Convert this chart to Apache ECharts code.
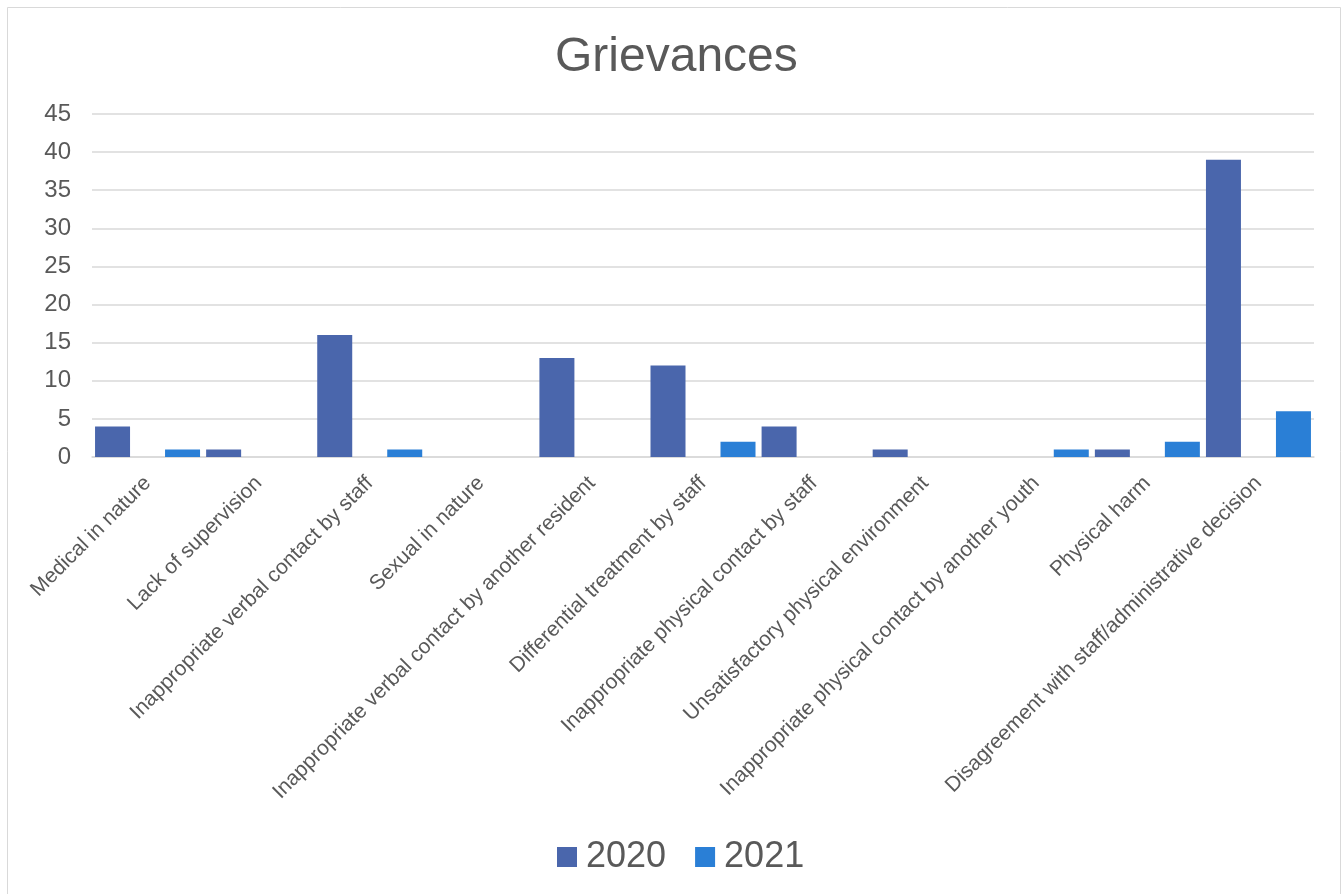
<!DOCTYPE html>
<html>
<head>
<meta charset="utf-8">
<title>Grievances</title>
<script src="https://cdn.jsdelivr.net/npm/echarts@6/dist/echarts.min.js"></script>
<style>
  html, body { margin: 0; padding: 0; background: #ffffff; }
  #chart { width: 1343px; height: 894px; }
</style>
</head>
<body>
<div id="chart"></div>
<script>
// Grievance categories along the x axis
const categories = [
  'Medical in nature',
  'Lack of supervision',
  'Inappropriate verbal contact by staff',
  'Sexual in nature',
  'Inappropriate verbal contact by another resident',
  'Differential treatment by staff',
  'Inappropriate physical contact by staff',
  'Unsatisfactory physical environment',
  'Inappropriate physical contact by another youth',
  'Physical harm',
  'Disagreement with staff/administrative decision'
];

// Counts per year
const values2020 = [4, 1, 16, 0, 13, 12, 4, 1, 0, 1, 39];
const values2021 = [1, 0, 1, 0, 0, 2, 0, 0, 1, 2, 6];

// Series names shown in the legend
const seriesNames = ['2020', '2021'];

const FONT = '"Liberation Sans", Arial, sans-serif';
const TEXT = '#595959';
const GRID_LINE = '#d9d9d9';

const chart = echarts.init(document.getElementById('chart'), null, { renderer: 'canvas' });

chart.setOption({
  backgroundColor: '#ffffff',
  animation: false,
  textStyle: { fontFamily: FONT },
  graphic: [{
    type: 'rect',
    shape: { x: 7.5, y: 7.5, width: 1333, height: 900 },
    style: { fill: 'none', stroke: '#d9d9d9', lineWidth: 1 },
    silent: true
  }],
  title: {
    text: 'Grievances',
    left: 550,
    top: 29,
    textStyle: { fontFamily: FONT, fontSize: 48, fontWeight: 'normal', color: TEXT }
  },
  legend: {
    data: seriesNames,
    left: 552,
    top: 834,
    itemWidth: 20,
    itemHeight: 20,
    itemGap: 29,
    icon: 'rect',
    textStyle: { fontFamily: FONT, fontSize: 36, color: TEXT, padding: [0, 0, 0, 4] }
  },
  grid: {
    left: 92,
    right: 29,
    top: 114,
    height: 343,
    containLabel: false
  },
  xAxis: {
    type: 'category',
    data: categories,
    boundaryGap: true,
    axisTick: { show: false },
    axisLine: { lineStyle: { color: GRID_LINE, width: 1.5 } },
    axisLabel: {
      interval: 0,
      rotate: 45,
      margin: 23,
      fontFamily: FONT,
      fontSize: 21,
      color: TEXT
    }
  },
  yAxis: {
    type: 'value',
    min: 0,
    max: 45,
    interval: 5,
    axisLine: { show: false },
    axisTick: { show: false },
    axisLabel: { margin: 21, fontFamily: FONT, fontSize: 24, color: TEXT },
    splitLine: { lineStyle: { color: GRID_LINE, width: 1.5 } }
  },
  series: [
    {
      name: seriesNames[0],
      type: 'bar',
      data: values2020,
      barWidth: 35,
      barGap: '100%',
      itemStyle: { color: '#4a66ac' }
    },
    {
      name: seriesNames[1],
      type: 'bar',
      data: values2021,
      barWidth: 35,
      barGap: '100%',
      itemStyle: { color: '#2a7fd6' }
    }
  ]
});
</script>
</body>
</html>
